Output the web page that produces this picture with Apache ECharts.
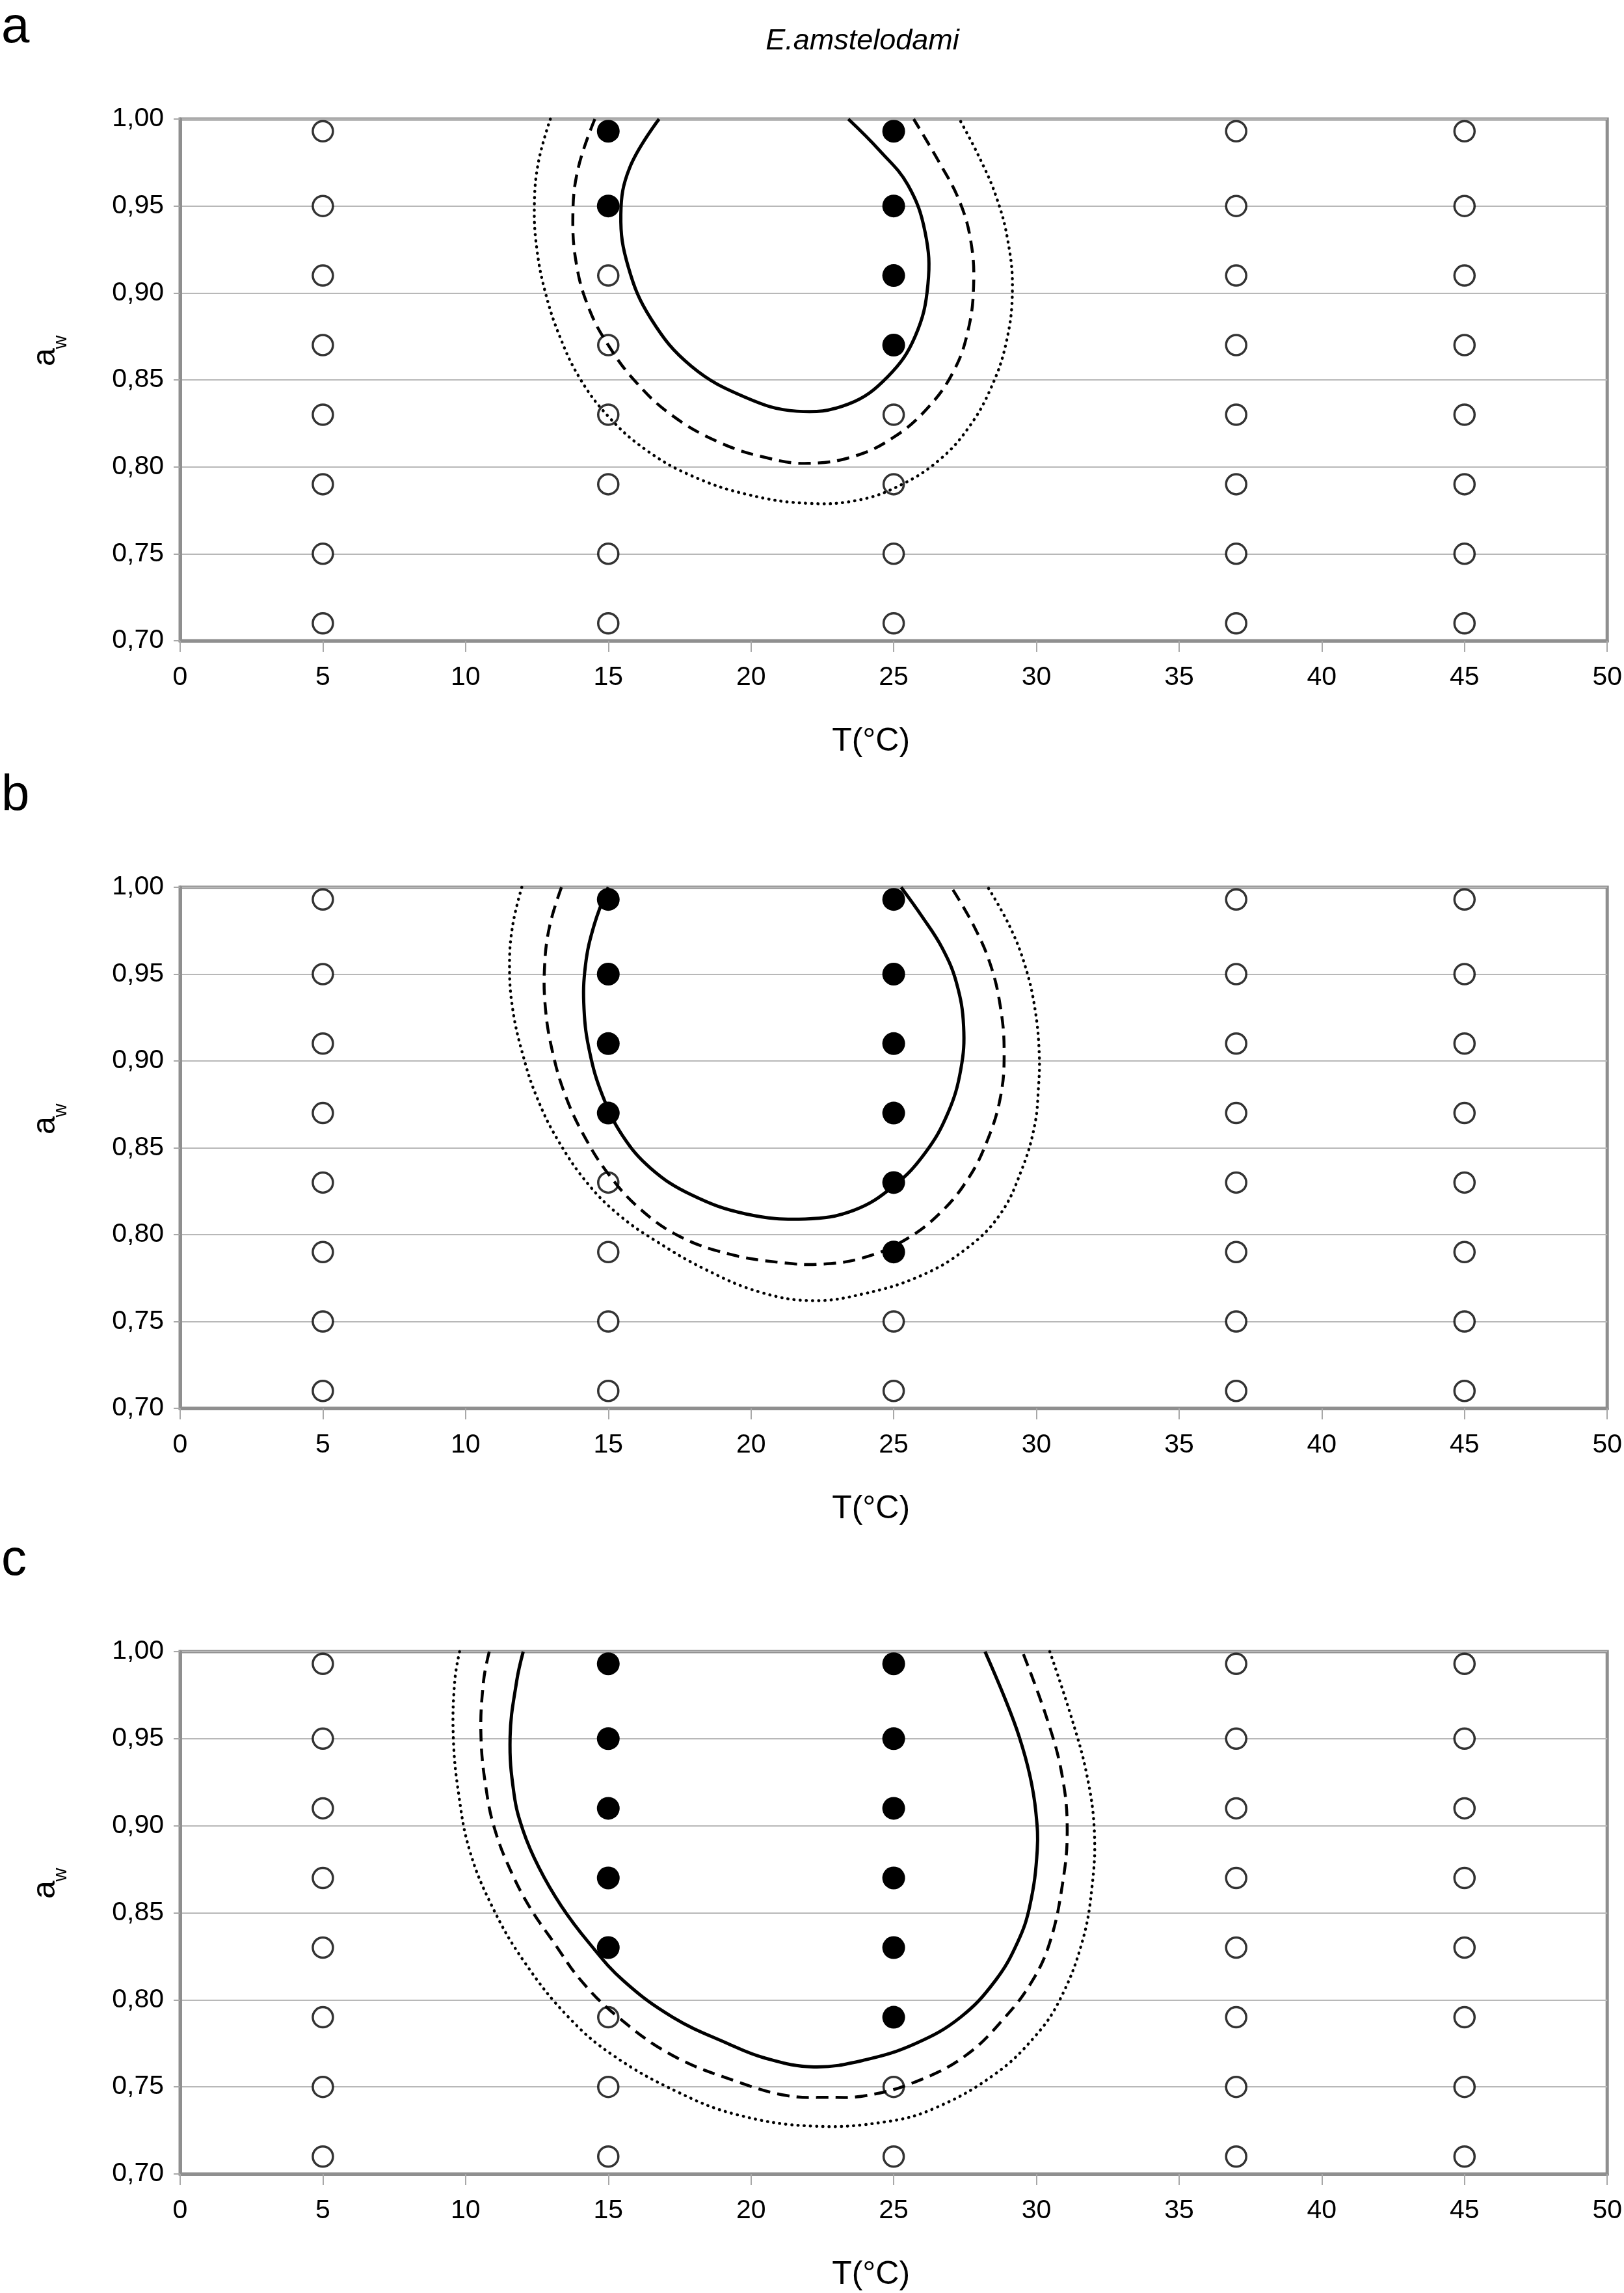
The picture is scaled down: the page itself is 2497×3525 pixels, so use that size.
<!DOCTYPE html>
<html>
<head>
<meta charset="utf-8">
<script src="https://cdn.jsdelivr.net/npm/echarts@6/dist/echarts.min.js"></script>
<style>
  html, body { margin: 0; padding: 0; background: #ffffff; }
  #chart { width: 2497px; height: 3525px; }
</style>
</head>
<body>
<div id="chart"></div>
<script>
// ---- data ----
const tempLevels = [5, 15, 25, 37, 45];
const awLevels = [0.993, 0.95, 0.91, 0.87, 0.83, 0.79, 0.75, 0.71];
const xTicks = [0, 5, 10, 15, 20, 25, 30, 35, 40, 45, 50];
const yTicks = [0.70, 0.75, 0.80, 0.85, 0.90, 0.95, 1.00];
const panelLabels = ['a', 'b', 'c'];
const titleText = 'E.amstelodami';
const xTitle = 'T(°C)';

// growth observed (filled circles)
const filledA = [[15, 0.993], [15, 0.95], [25, 0.993], [25, 0.95], [25, 0.91], [25, 0.87]];
const filledB = [[15, 0.993], [15, 0.95], [15, 0.91], [15, 0.87], [25, 0.993], [25, 0.95], [25, 0.91], [25, 0.87], [25, 0.83], [25, 0.79]];
const filledC = [[15, 0.993], [15, 0.95], [15, 0.91], [15, 0.87], [15, 0.83], [25, 0.993], [25, 0.95], [25, 0.91], [25, 0.87], [25, 0.83], [25, 0.79]];

// model contours
const solidA = [[16.78,1.0],[15.75,0.972],[15.44,0.945],[15.7,0.915],[16.5,0.885],[17.9,0.858],[19.8,0.840],[21.6,0.832],[23.4,0.836],[24.8,0.852],[25.75,0.875],[26.2,0.905],[26.1,0.935],[25.5,0.962],[24.5,0.982],[23.41,1.0]];
const dashedA = [[14.53,1.0],[13.95,0.972],[13.76,0.945],[13.9,0.915],[14.35,0.890],[15.0,0.870],[15.9,0.850],[17.2,0.830],[18.9,0.814],[20.6,0.805],[22.0,0.802],[23.6,0.806],[25.0,0.817],[26.2,0.834],[27.1,0.855],[27.6,0.878],[27.8,0.904],[27.7,0.930],[27.3,0.953],[26.6,0.975],[25.7,1.0]];
const dottedA = [[12.97,1.0],[12.55,0.975],[12.41,0.950],[12.5,0.925],[12.8,0.900],[13.3,0.875],[14.0,0.851],[15.0,0.829],[16.3,0.810],[17.9,0.795],[19.9,0.784],[22.0,0.779],[23.8,0.781],[25.3,0.790],[26.6,0.804],[27.6,0.822],[28.4,0.845],[28.95,0.872],[29.16,0.902],[29.0,0.930],[28.6,0.955],[28.0,0.978],[27.3,1.0]];

const solidB = [[15.0,1.0],[14.5,0.978],[14.2,0.955],[14.15,0.930],[14.35,0.905],[14.8,0.880],[15.5,0.857],[16.5,0.838],[17.9,0.823],[19.8,0.812],[21.9,0.809],[23.6,0.814],[25.0,0.828],[26.1,0.847],[26.9,0.870],[27.35,0.895],[27.45,0.920],[27.2,0.945],[26.7,0.965],[26.0,0.983],[25.26,1.0]];
const dashedB = [[13.36,1.0],[12.95,0.978],[12.77,0.955],[12.8,0.930],[13.05,0.905],[13.5,0.880],[14.15,0.857],[15.0,0.835],[16.1,0.815],[17.5,0.799],[19.2,0.789],[21.0,0.784],[22.5,0.783],[24.0,0.787],[25.4,0.797],[26.6,0.812],[27.6,0.832],[28.3,0.855],[28.75,0.880],[28.87,0.905],[28.75,0.930],[28.4,0.955],[27.8,0.978],[27.02,1.0]];
const dottedB = [[11.97,1.0],[11.65,0.978],[11.54,0.955],[11.65,0.930],[12.0,0.904],[12.5,0.879],[13.25,0.854],[14.3,0.829],[15.4,0.811],[16.7,0.796],[18.4,0.780],[20.3,0.767],[22.14,0.762],[23.96,0.766],[25.9,0.776],[27.47,0.791],[28.7,0.811],[29.5,0.838],[29.94,0.863],[30.07,0.884],[30.1,0.904],[29.95,0.930],[29.6,0.955],[29.05,0.978],[28.3,1.0]];

const solidC = [[12.02,1.0],[11.79,0.983],[11.56,0.951],[11.7,0.918],[12.02,0.897],[12.57,0.876],[13.35,0.854],[14.31,0.833],[15.53,0.811],[17.26,0.790],[19.17,0.775],[20.5,0.7665],[22.2,0.7615],[24.0,0.7655],[25.78,0.775],[27.34,0.790],[28.56,0.811],[29.34,0.833],[29.77,0.854],[30.03,0.886],[29.98,0.908],[29.77,0.929],[29.4,0.951],[28.9,0.973],[28.2,1.0]];
const dashedC = [[10.83,1.0],[10.63,0.983],[10.54,0.951],[10.75,0.918],[11.04,0.897],[11.53,0.876],[12.22,0.854],[13.09,0.833],[14.05,0.811],[15.35,0.790],[17.26,0.768],[19.52,0.753],[21.26,0.745],[22.65,0.744],[24.04,0.745],[25.78,0.753],[27.52,0.768],[28.9,0.790],[29.86,0.811],[30.47,0.833],[30.9,0.865],[31.08,0.897],[30.9,0.929],[30.38,0.961],[29.51,1.0]];
const dottedC = [[9.79,1.0],[9.62,0.983],[9.57,0.951],[9.76,0.918],[10.14,0.886],[10.92,0.854],[12.05,0.822],[13.61,0.790],[15.18,0.768],[17.44,0.747],[19.52,0.734],[22.13,0.7275],[24.74,0.730],[26.47,0.738],[28.56,0.7575],[29.95,0.779],[30.82,0.800],[31.6,0.833],[31.95,0.865],[32.03,0.897],[31.77,0.929],[31.25,0.961],[30.47,1.0]];

const filledSets = [filledA, filledB, filledC];
const solidSets = [solidA, solidB, solidC];
const dashedSets = [dashedA, dashedB, dashedC];
const dottedSets = [dottedA, dottedB, dottedC];

// ---- layout ----
const gridTops = [183, 1364, 2539];
const gridHeights = [802, 801, 803];
const gridLeft = 277, gridWidth = 2200;
const FONT = '"Liberation Sans", Arial, Helvetica, sans-serif';
const AXIS_GRAY = '#8f8f8f';

function openPoints(filled) {
  const out = [];
  tempLevels.forEach(t => awLevels.forEach(a => {
    if (!filled.some(p => p[0] === t && p[1] === a)) out.push([t, a]);
  }));
  return out;
}

// smooth contour drawn through the axes' scales (api.coord)
function curveSeries(i, data, lineStyle) {
  return {
    type: 'custom', coordinateSystem: 'cartesian2d', xAxisIndex: i, yAxisIndex: i,
    data: data, z: 3, silent: true,
    renderItem: function (params, api) {
      if (params.dataIndex !== 0) return null;
      const pts = data.map(p => api.coord(p));
      return {
        type: 'polyline',
        shape: { points: pts, smooth: 0.4 },
        style: Object.assign({ fill: null, stroke: '#000' }, lineStyle)
      };
    }
  };
}

const grids = [], xAxes = [], yAxes = [], series = [], graphics = [];
for (let i = 0; i < 3; i++) {
  grids.push({
    left: gridLeft, top: gridTops[i], width: gridWidth, height: gridHeights[i],
    show: true, borderColor: AXIS_GRAY, borderWidth: 5, backgroundColor: 'transparent'
  });
  xAxes.push({
    type: 'value', gridIndex: i, min: xTicks[0], max: xTicks[xTicks.length - 1], interval: 5,
    name: xTitle, nameLocation: 'middle', nameGap: 130,
    nameTextStyle: { fontFamily: FONT, fontSize: 50, color: '#000', padding: [0, 70, 0, 0] },
    axisLine: { show: true, onZero: false, lineStyle: { color: AXIS_GRAY, width: 5 } },
    axisTick: { show: true, length: 17, lineStyle: { color: '#a8a8a8', width: 2 } },
    axisLabel: { fontFamily: FONT, fontSize: 41, color: '#000', margin: 36 },
    splitLine: { show: false }
  });
  yAxes.push({
    type: 'value', gridIndex: i, min: yTicks[0], max: yTicks[yTicks.length - 1], interval: 0.05,
    axisLine: { show: true, onZero: false, lineStyle: { color: AXIS_GRAY, width: 5 } },
    axisTick: { show: true, length: 10, lineStyle: { color: '#a8a8a8', width: 2 } },
    axisLabel: { fontFamily: FONT, fontSize: 41, color: '#000', margin: 25,
      formatter: v => v.toFixed(2).replace('.', ',') },
    splitLine: { show: true, lineStyle: { color: '#b8b8b8', width: 2 } }
  });
  series.push({
    type: 'scatter', xAxisIndex: i, yAxisIndex: i, data: openPoints(filledSets[i]),
    symbol: 'circle', symbolSize: 31, z: 2,
    itemStyle: { color: '#ffffff', borderColor: '#000', borderWidth: 3.5 }
  });
  series.push({
    type: 'scatter', xAxisIndex: i, yAxisIndex: i, data: filledSets[i],
    symbol: 'circle', symbolSize: 35, z: 2,
    itemStyle: { color: '#000', borderWidth: 0, opacity: 1 }
  });
  series.push(curveSeries(i, solidSets[i], { lineWidth: 5 }));
  series.push(curveSeries(i, dashedSets[i], { lineWidth: 4.5, lineDash: [19, 11] }));
  series.push(curveSeries(i, dottedSets[i], { lineWidth: 4.5, lineDash: [0.5, 9], lineCap: 'round' }));

  // panel letter
  graphics.push({ type: 'text', x: 2, y: gridTops[i] - 140,
    style: { text: panelLabels[i], font: '78px ' + FONT, fill: '#000', align: 'left', verticalAlign: 'middle' } });
  // y axis name a_w (rotated)
  const cy = gridTops[i] + 360;
  graphics.push({ type: 'text', x: 70, y: cy + 6, rotation: Math.PI / 2,
    style: { text: 'a', font: '50px ' + FONT, fill: '#000', align: 'center', verticalAlign: 'middle' } });
  graphics.push({ type: 'text', x: 94, y: cy - 17, rotation: Math.PI / 2,
    style: { text: 'w', font: '29px ' + FONT, fill: '#000', align: 'center', verticalAlign: 'middle' } });
}
graphics.push({ type: 'text', x: 1326, y: 63,
  style: { text: titleText, font: 'italic 45px ' + FONT, fill: '#000', align: 'center', verticalAlign: 'middle' } });

const chart = echarts.init(document.getElementById('chart'), null, { renderer: 'canvas' });
chart.setOption({
  animation: false,
  backgroundColor: '#ffffff',
  grid: grids,
  xAxis: xAxes,
  yAxis: yAxes,
  series: series,
  graphic: graphics
});
</script>
</body>
</html>
